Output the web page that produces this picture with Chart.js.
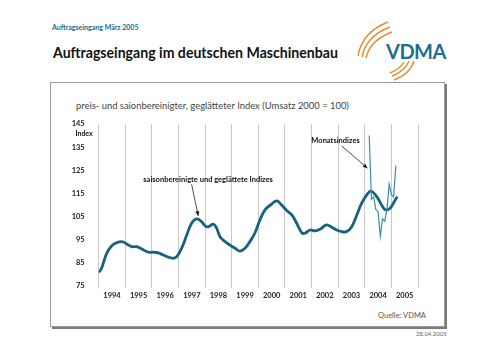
<!DOCTYPE html>
<html>
<head>
<meta charset="utf-8">
<script src="https://cdn.jsdelivr.net/npm/chart.js@4"></script>
<style>
  html, body { margin: 0; padding: 0; background: #fff; }
  body { width: 500px; height: 353px; position: relative; overflow: hidden; font-family: Lato, sans-serif; }
  #box { position: absolute; left: 50px; top: 82px; width: 393px; height: 243px; border: 1px solid #9a9a9a; box-shadow: 2px 2px 0 #7a7a7a; }
  #chart { position: absolute; left: 0; top: 0; }
  .txt { position: absolute; white-space: nowrap; transform-origin: 0 50%; }
  #kopf { left: 52px; top: 23px; font-size: 7px; font-weight: bold; color: #1d6b8a; }
  #titel { left: 53px; top: 43px; font-size: 15.5px; font-weight: bold; color: #111; transform: scaleX(0.91); }
  #logo { left: 386px; top: 39px; font-size: 20px; font-weight: bold; color: #1c6f8e; letter-spacing: -0.5px; }
  #unter { left: 76px; top: 99px; font-size: 10px; color: #444; transform: scaleX(0.94); }
  #quelle { left: 378px; top: 311px; font-size: 7.5px; color: #555; }
  #datum { left: 416px; top: 330px; font-size: 6px; color: #666; }
  svg { position: absolute; left: 0; top: 0; }
</style>
</head>
<body>
<div id="box"></div>
<svg width="500" height="100">
  <g fill="none" stroke="#e58a2e" stroke-width="1.4">
    <path d="M 358 56 Q 362 32 388 22"/>
    <path d="M 362 57 Q 366 36 390 27"/>
    <path d="M 366 58 Q 370 40 392 32"/>
    <path d="M 394 80 Q 410 74 414 61"/>
    <path d="M 392 76 Q 405 71 409 61"/>
    <path d="M 390 73 Q 400 69 404 62"/>
  </g>
</svg>
<div class="txt" id="kopf">Auftragseingang März 2005</div>
<div class="txt" id="titel">Auftragseingang im deutschen Maschinenbau</div>
<div class="txt" id="logo">VDMA</div>
<div class="txt" id="unter">preis- und saionbereinigter, geglätteter Index (Umsatz 2000 = 100)</div>
<div class="txt" id="quelle">Quelle: VDMA</div>
<div class="txt" id="datum">28.04.2005</div>
<canvas id="chart" width="500" height="353"></canvas>
<script>
// Monate seit Januar 1994
const glattMonate = [0, 1.3, 3.6, 5.9, 8.1, 10.4, 12.6, 14.9, 17.1, 19.4, 22.4, 24.6, 26.9, 29.1, 31.4, 33.6, 35.2,
  37.4, 39.7, 41.9, 44.2, 46.4, 48, 49.4, 51.7, 53.2, 54.7, 57, 59.2, 61.5, 63.7, 66, 68.2, 70.5, 72.7, 75, 78,
  80.3, 82.5, 84.8, 87.1, 89.3, 91.6, 93, 95.3, 97.5, 99.8, 102.8, 105.1, 107.3, 109.6, 111.8, 114.1, 116.4,
  118.6, 120.9, 122.8, 125.4, 127.6, 129.2, 131.4, 133.7, 134.7]
const glattWerte = [80.8, 82.7, 89.1, 92.4, 93.7, 94.2, 93.2, 92, 92, 91, 89.6, 89.6, 89.3, 88.4, 87.5, 87, 87.7,
  91.3, 97, 102.1, 104, 102.8, 101, 100.6, 101.7, 100, 96.3, 94.2, 92.7, 91.3, 90.1, 91.3, 94.2, 98, 103.5, 107.9, 110.4,
  111.8, 110, 107.6, 105.7, 102.1, 98, 97.8, 99.2, 98.8, 99.5, 101.4, 100.4, 99.2, 98.5, 98.5, 100.6, 105.7,
  110.8, 114.4, 116, 113.6, 110, 108, 108.6, 112.2, 113.6]

const monatMonate = [122, 123, 124, 125, 126, 127, 128, 129, 130, 131, 132, 133, 134]
const monatWerte = [140, 112.5, 113.5, 108, 107, 96.5, 104, 103, 108, 119, 114.5, 113.5, 127]

const jahre = ['1994', '1995', '1996', '1997', '1998', '1999', '2000', '2001', '2002', '2003', '2004', '2005']
const yTicks = [75, 85, 95, 105, 115, 125, 135, 145]

function paare(xs, ys) {
    return xs.map((x, i) => ({ x: x, y: ys[i] }))
}

// Pfeile und Beschriftungen im Diagramm (in Datenkoordinaten)
const hinweise = [
    { text: 'saisonbereinigte und geglättete Indizes', x: 49.3, y: 120.8, von: [41.9, 119], nach: [44.9, 105.3] },
    { text: 'Monatsindizes', x: 106.8, y: 137.7, von: [109.6, 135.5], nach: [121.2, 125.9] }
]

const extras = {
    id: 'extras',
    afterDatasetsDraw(chart) {
        const c = chart.ctx
        const xs = chart.scales.x
        const ys = chart.scales.y
        c.save()
        c.fillStyle = '#111'
        c.font = 'bold 7px Lato'
        c.textAlign = 'right'
        c.textBaseline = 'middle'
        c.fillText('Index', chart.chartArea.left - 6, ys.getPixelForValue(141))

        hinweise.forEach(h => {
            c.textAlign = 'center'
            c.font = 'bold 7.5px Lato'
            c.fillText(h.text, xs.getPixelForValue(h.x), ys.getPixelForValue(h.y))
            const x1 = xs.getPixelForValue(h.von[0]), y1 = ys.getPixelForValue(h.von[1])
            const x2 = xs.getPixelForValue(h.nach[0]), y2 = ys.getPixelForValue(h.nach[1])
            c.strokeStyle = '#222'
            c.lineWidth = 0.8
            c.beginPath()
            c.moveTo(x1, y1)
            c.lineTo(x2, y2)
            c.stroke()
            const a = Math.atan2(y2 - y1, x2 - x1)
            c.beginPath()
            c.moveTo(x2, y2)
            c.lineTo(x2 - 5 * Math.cos(a - 0.4), y2 - 5 * Math.sin(a - 0.4))
            c.lineTo(x2 - 5 * Math.cos(a + 0.4), y2 - 5 * Math.sin(a + 0.4))
            c.closePath()
            c.fill()
        })
        c.restore()
    }
}

const ctx = document.getElementById('chart')

new Chart(ctx, {
    type: 'line',
    data: {
        datasets: [{
            label: 'Monatsindizes',
            data: paare(monatMonate, monatWerte),
            borderColor: '#3b8cab',
            borderWidth: 1.2,
            pointRadius: 0,
            tension: 0,
            order: 0
        },
        {
            label: 'saisonbereinigte und geglättete Indizes',
            data: paare(glattMonate, glattWerte),
            borderColor: '#16637e',
            borderWidth: 2.8,
            pointRadius: 0,
            tension: 0.4,
            order: 1
        }]
    },
    options: {
        responsive: false,
        animation: false,
        devicePixelRatio: 1,
        layout: { padding: { left: 60, top: 124, right: 82, bottom: 47 } },
        plugins: {
            legend: { display: false },
            tooltip: { enabled: false }
        },
        scales: {
            x: {
                type: 'linear',
                min: 0,
                max: 144,
                afterFit: s => { s.height = 20 },
                border: { display: false },
                grid: {
                    color: g => g.tick && g.tick.value % 12 === 0 ? '#c9c9c9' : 'transparent',
                    lineWidth: 1,
                    tickLength: 2
                },
                ticks: {
                    stepSize: 6,
                    autoSkip: false,
                    maxRotation: 0,
                    padding: 3,
                    color: '#222',
                    font: { family: 'Lato', size: 7.5, weight: 'bold' },
                    callback: v => v % 12 === 6 ? jahre[(v - 6) / 12] : ''
                }
            },
            y: {
                min: 75,
                max: 145,
                afterFit: s => { s.width = 38.7 },
                afterBuildTicks: s => { s.ticks = yTicks.map(v => ({ value: v })) },
                border: { display: false },
                grid: { display: false },
                ticks: {
                    padding: 6,
                    color: '#222',
                    font: { family: 'Lato', size: 7.5, weight: 'bold' }
                }
            }
        }
    },
    plugins: [extras]
})
</script>
</body>
</html>
